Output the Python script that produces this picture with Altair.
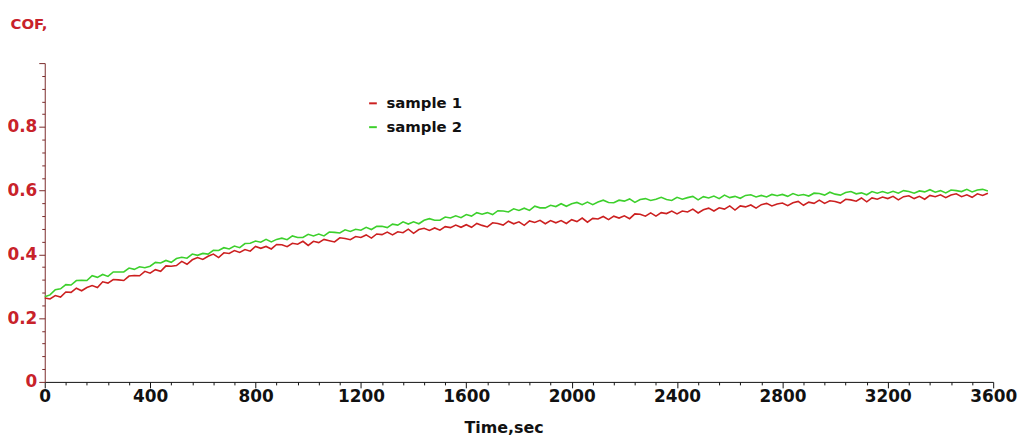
import altair as alt
import pandas as pd

time_s = list(range(0, 3600, 20))

sample1 = [
    .263, .260, .271, .266, .282, .281, .294, .286, .296, .302, .296, .314, .310, .321, .320, .318, .332, .334, .333, .347,
    .341, .352, .347, .364, .363, .365, .378, .369, .383, .390, .384, .394, .401, .390, .405, .403, .412, .406, .415, .410,
    .425, .419, .425, .417, .431, .430, .424, .435, .432, .441, .428, .441, .437, .447, .443, .439, .452, .450, .446, .456,
    .453, .461, .451, .464, .462, .470, .461, .471, .468, .479, .466, .478, .482, .475, .483, .476, .487, .484, .492, .485,
    .493, .485, .497, .491, .486, .499, .497, .492, .504, .496, .502, .491, .505, .500, .507, .496, .506, .499, .506, .497,
    .509, .503, .514, .501, .513, .511, .519, .509, .520, .514, .521, .512, .527, .526, .520, .530, .520, .531, .528, .536,
    .527, .536, .533, .542, .530, .540, .545, .536, .546, .542, .552, .539, .552, .549, .555, .545, .556, .560, .552, .558,
    .561, .553, .562, .566, .554, .564, .560, .570, .560, .568, .566, .561, .573, .571, .567, .577, .565, .577, .573, .580,
    .575, .582, .571, .581, .584, .575, .582, .573, .585, .581, .587, .578, .586, .590, .581, .587, .579, .590, .585, .592,
]

sample2 = [
    .267, .273, .289, .292, .305, .304, .318, .319, .318, .333, .328, .337, .331, .345, .345, .345, .357, .353, .361, .358,
    .363, .375, .373, .381, .375, .387, .391, .388, .401, .397, .403, .401, .413, .412, .421, .417, .426, .421, .434, .435,
    .442, .438, .447, .439, .447, .451, .446, .458, .453, .453, .463, .458, .464, .458, .470, .469, .467, .477, .472, .479,
    .476, .485, .478, .488, .488, .484, .495, .492, .502, .495, .502, .496, .507, .512, .507, .507, .517, .514, .521, .515,
    .525, .520, .531, .526, .531, .525, .537, .536, .533, .543, .538, .545, .538, .551, .546, .546, .554, .550, .559, .551,
    .559, .563, .556, .564, .556, .564, .570, .563, .562, .570, .567, .574, .563, .572, .575, .569, .573, .579, .572, .569,
    .579, .573, .578, .582, .571, .581, .577, .583, .575, .586, .578, .582, .576, .585, .587, .580, .585, .580, .588, .584,
    .588, .582, .591, .585, .588, .583, .592, .591, .586, .595, .589, .586, .594, .597, .590, .593, .587, .597, .592, .597,
    .592, .598, .592, .600, .597, .592, .599, .596, .603, .595, .600, .593, .602, .600, .597, .604, .596, .602, .604, .599,
]

series_names = ["sample 1", "sample 2"]
series_colors = ["#cc2020", "#3dd02c"]

x_ticks = [v for v in range(0, 3601, 80)]
y_ticks = [round(k * 0.04, 2) for k in range(0, 26)]

df1 = pd.DataFrame({"t": time_s, "cof": sample1, "series": series_names[0]})
df2 = pd.DataFrame({"t": time_s, "cof": sample2, "series": series_names[1]})

RED = "#c8222a"
FONT = "DejaVu Sans"

x_enc = alt.X(
    "t:Q",
    scale=alt.Scale(domain=[0, 3600], nice=False),
    axis=alt.Axis(
        title="Time,sec",
        values=x_ticks,
        labelExpr="datum.value % 400 == 0 ? datum.label : ''",
        format="d",
        grid=False,
        domainColor="#111111",
        tickColor="#111111",
        tickSize={"condition": {"test": "datum.value % 400 == 0", "value": 6}, "value": 3},
        labelFont=FONT,
        labelFontWeight="bold",
        labelFontSize=17,
        labelColor="#111111",
        labelPadding=1,
        labelFlush=False,
        titleFont=FONT,
        titleFontWeight="bold",
        titleFontSize=16,
        titleColor="#111111",
        titleX=462,
        titleY=46,
        titleBaseline="middle",
    ),
)

y_enc = alt.Y(
    "cof:Q",
    scale=alt.Scale(domain=[0, 1], nice=False),
    axis=alt.Axis(
        title="COF,",
        values=y_ticks,
        labelExpr="abs(datum.value*5 - round(datum.value*5)) < 0.001 && datum.value < 0.99 ? format(datum.value, '.1~f') : ''",
        grid=False,
        domainColor="#7a2a2a",
        tickColor="#7a2a2a",
        tickSize={"condition": {"test": "abs(datum.value*5 - round(datum.value*5)) < 0.001", "value": 6}, "value": 3},
        labelFont=FONT,
        labelFontWeight="bold",
        labelFontSize=17,
        labelColor=RED,
        labelPadding=2,
        labelFlush=False,
        titleFont=FONT,
        titleFontWeight="bold",
        titleFontSize=15,
        titleColor=RED,
        titleAngle=0,
        titleAlign="left",
        titleBaseline="middle",
        titleX=-35,
        titleY=-40,
    ),
)

color_enc = alt.Color(
    "series:N",
    scale=alt.Scale(domain=series_names, range=series_colors),
    legend=alt.Legend(
        title=None,
        orient="none",
        legendX=323,
        legendY=33,
        symbolType="stroke",
        symbolSize=60,
        symbolStrokeWidth=2,
        labelFont=FONT,
        labelFontWeight="bold",
        labelFontSize=15,
        labelColor="#111111",
        rowPadding=8,
        labelOffset=6,
    ),
)

green = alt.Chart(df2).mark_line(strokeWidth=1.6).encode(x=x_enc, y=y_enc, color=color_enc)
red = alt.Chart(df1).mark_line(strokeWidth=1.6).encode(x=x_enc, y=y_enc, color=color_enc)

chart = (
    alt.layer(green, red)
    .properties(
        width=955,
        height=321,
        autosize=alt.AutoSizeParams(type="none"),
        padding={"left": 37, "top": 54, "right": 26, "bottom": 56},
        background="white",
    )
    .configure_view(stroke=None)
)

chart.save("out.html", embed_options={"renderer": "svg", "actions": False})
